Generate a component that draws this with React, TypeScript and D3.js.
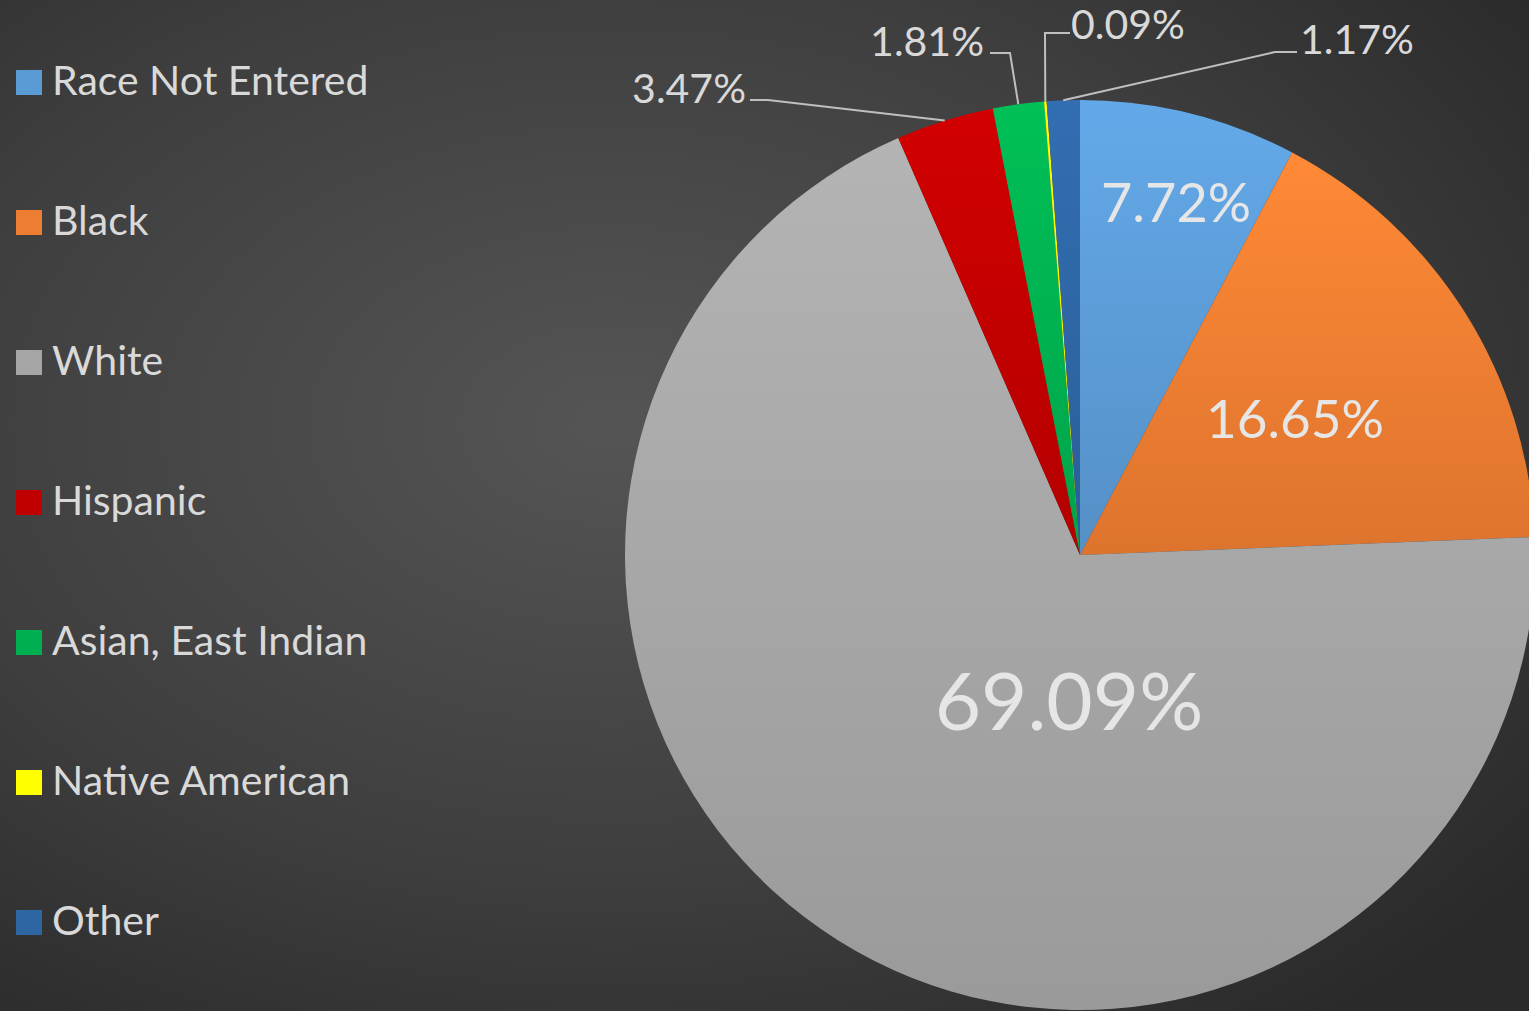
import React from "react";
import * as d3 from "d3";

const categories = ["Race Not Entered", "Black", "White", "Hispanic", "Asian, East Indian", "Native American", "Other"];
const values = [7.72, 16.65, 69.09, 3.47, 1.81, 0.09, 1.17];
const colors = ["#5b9bd5", "#ed7d31", "#a5a5a5", "#c00000", "#00b050", "#ffff00", "#2e65a3"];
const labels = ["7.72%", "16.65%", "69.09%", "3.47%", "1.81%", "0.09%", "1.17%"];

const W = 1529, H = 1011;
const CX = 1080, CY = 555, R = 455;

const insideLabel: Record<number, { x: number; y: number; size: number }> = {
  0: { x: 1176, y: 222, size: 54 },
  1: { x: 1295, y: 438, size: 53 },
  2: { x: 1069, y: 730, size: 80 },
};
const outsideLabel: Record<number, { tx: number; ty: number; anchor: string; elbow: [number, number][] }> = {
  3: { tx: 746, ty: 103, anchor: "end", elbow: [[750, 100], [768, 100]] },
  4: { tx: 984, ty: 56, anchor: "end", elbow: [[990, 53], [1010, 53]] },
  5: { tx: 1071, ty: 39, anchor: "start", elbow: [[1070, 33], [1045, 33]] },
  6: { tx: 1300, ty: 54, anchor: "start", elbow: [[1297, 52], [1275, 52]] },
};

const FONT = "Lato, 'Open Sans', sans-serif";

export default function App() {
  const pie = d3.pie<number>().sort(null).value((d) => d)
    .startAngle(0).endAngle(2 * Math.PI);
  const arcs = pie(values);
  const arcGen = d3.arc<d3.PieArcDatum<number>>().innerRadius(0).outerRadius(R);

  const onArc = (a: d3.PieArcDatum<number>) => {
    const m = (a.startAngle + a.endAngle) / 2;
    return [CX + R * Math.sin(m), CY - R * Math.cos(m)];
  };

  return (
    <svg width={W} height={H} style={{ position: "absolute", left: 0, top: 0, display: "block" }}>
      <defs>
        <radialGradient id="bg" cx="0.4" cy="0.42" r="0.75">
          <stop offset="0" stopColor="#555555" />
          <stop offset="0.6" stopColor="#3e3e3e" />
          <stop offset="1" stopColor="#2a2a2a" />
        </radialGradient>
        {colors.map((c, i) => (
          <linearGradient key={i} id={`g${i}`} x1="0" y1="0" x2="0" y2="1">
            <stop offset="0" stopColor={d3.color(c)!.brighter(0.25).formatHex()} />
            <stop offset="1" stopColor={d3.color(c)!.darker(0.2).formatHex()} />
          </linearGradient>
        ))}
      </defs>
      <rect x={0} y={0} width={W} height={H} fill="url(#bg)" />

      <g>
        {arcs.map((a, i) => (
          <path key={i} d={arcGen(a)!} transform={`translate(${CX},${CY})`} fill={`url(#g${i})`} />
        ))}
      </g>

      {arcs.map((a, i) => {
        const o = outsideLabel[i];
        if (!o) return null;
        const p = onArc(a);
        const pts = [...o.elbow, p];
        return (
          <g key={`o${i}`}>
            <polyline points={pts.map((q) => q.join(",")).join(" ")} fill="none" stroke="#bfbfbf" strokeWidth={2} />
            <text x={o.tx} y={o.ty} textAnchor={o.anchor} fill="#d9d9d9" fontFamily={FONT} fontSize={41}>
              {labels[i]}
            </text>
          </g>
        );
      })}

      {arcs.map((a, i) => {
        const l = insideLabel[i];
        if (!l) return null;
        return (
          <text key={`i${i}`} x={l.x} y={l.y} textAnchor="middle" fill="#e6e6e6" fontFamily={FONT} fontSize={l.size}>
            {labels[i]}
          </text>
        );
      })}

      <g>
        {categories.map((c, i) => (
          <g key={c} transform={`translate(16,${70 + i * 140})`}>
            <rect x={0} y={0} width={26} height={25} fill={colors[i]} />
            <text x={36} y={25} fill="#d9d9d9" fontFamily={FONT} fontSize={41}>{c}</text>
          </g>
        ))}
      </g>
    </svg>
  );
}
